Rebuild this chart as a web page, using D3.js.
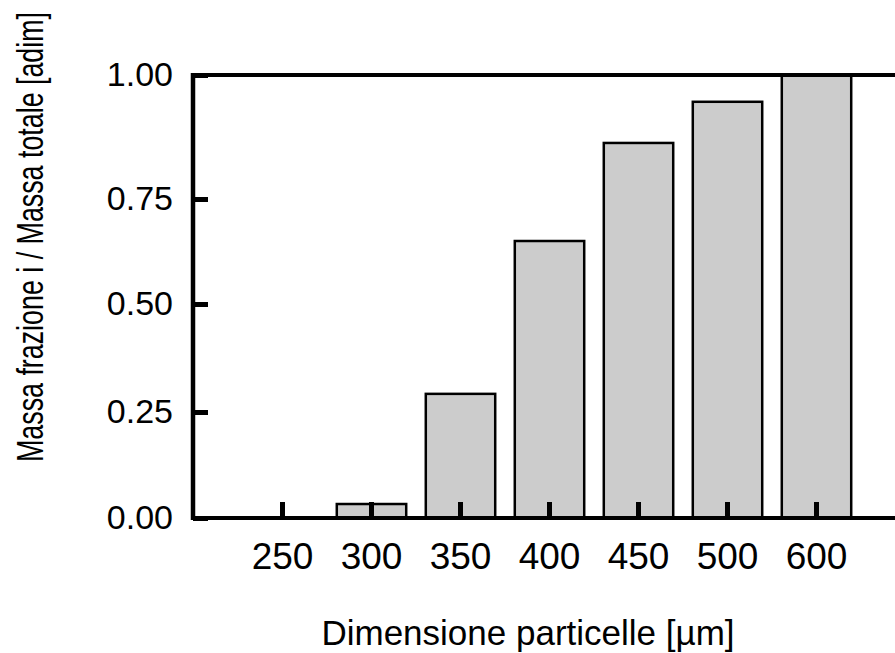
<!DOCTYPE html>
<html>
<head>
<meta charset="utf-8">
<script src="https://cdn.jsdelivr.net/npm/d3@7"></script>
<style>
    body { margin: 0; background: #fff; }
    svg { display: block; font-family: "Liberation Sans", Arial, sans-serif; }
</style>
</head>
<body>
<svg id="plot"></svg>
<script>
// Data
const sizes = ["250", "300", "350", "400", "450", "500", "600"];
const fractions = [0, 0.033, 0.292, 0.65, 0.863, 0.946, 1.0];
const yTicks = [0, 0.25, 0.5, 0.75, 1.0];

const width = 895;
const height = 653;
const svg = d3.select("#plot").attr("width", width).attr("height", height);

const plotLeft = 193, plotTop = 75, plotBottom = 518;

// The y axis of the original is not quite evenly spaced, so use a piecewise scale
const yScale = d3.scaleLinear()
    .domain(yTicks)
    .range([plotBottom, 412, 304, 199, plotTop]);

const xScale = d3.scaleBand()
    .domain(sizes)
    .range([238, 861])
    .paddingInner(0.22)
    .paddingOuter(0.11);

// Bars
svg.selectAll("rect.bar")
    .data(sizes)
    .enter()
    .append("rect")
    .attr("class", "bar")
    .attr("x", (d) => xScale(d))
    .attr("y", (d, i) => yScale(fractions[i]))
    .attr("width", xScale.bandwidth())
    .attr("height", (d, i) => plotBottom - yScale(fractions[i]))
    .attr("fill", "#cccccc")
    .attr("stroke", "#000")
    .attr("stroke-width", 2.5);

// Y axis, ticks pointing inward
const yAxis = svg.append("g")
    .attr("transform", `translate(${plotLeft},0)`)
    .call(d3.axisLeft(yScale).tickValues(yTicks).tickFormat(d3.format(".2f")).tickSize(-15).tickPadding(20));
yAxis.select(".domain").remove();
yAxis.selectAll(".tick line").attr("stroke-width", 5);
yAxis.selectAll(".tick text").attr("font-size", 34).attr("fill", "#000");

// X axis, ticks pointing up
const xAxis = svg.append("g")
    .attr("transform", `translate(0,${plotBottom})`)
    .call(d3.axisBottom(xScale).tickSize(-16).tickPadding(25));
xAxis.select(".domain").remove();
xAxis.selectAll(".tick line").attr("stroke-width", 5);
xAxis.selectAll(".tick text").attr("font-size", 37).attr("fill", "#000");

// Frame lines: left, bottom and top
svg.append("line").attr("x1", plotLeft).attr("x2", plotLeft).attr("y1", plotTop - 2).attr("y2", plotBottom + 2)
    .attr("stroke", "#000").attr("stroke-width", 4.5);
svg.append("line").attr("x1", plotLeft - 2).attr("x2", width).attr("y1", plotBottom).attr("y2", plotBottom)
    .attr("stroke", "#000").attr("stroke-width", 4);
svg.append("line").attr("x1", plotLeft - 2).attr("x2", width).attr("y1", plotTop).attr("y2", plotTop)
    .attr("stroke", "#000").attr("stroke-width", 4);

// Axis titles
svg.append("text")
    .attr("x", 528)
    .attr("y", 645)
    .attr("text-anchor", "middle")
    .attr("font-size", 35)
    .text("Dimensione particelle [µm]");

// y title is drawn condensed in the original: small font stretched in height
svg.append("text")
    .attr("transform", "translate(43,237) rotate(-90) scale(1,1.48)")
    .attr("text-anchor", "middle")
    .attr("font-size", 25)
    .attr("textLength", 450)
    .attr("lengthAdjust", "spacingAndGlyphs")
    .text("Massa frazione i / Massa totale [adim]");
</script>
</body>
</html>
